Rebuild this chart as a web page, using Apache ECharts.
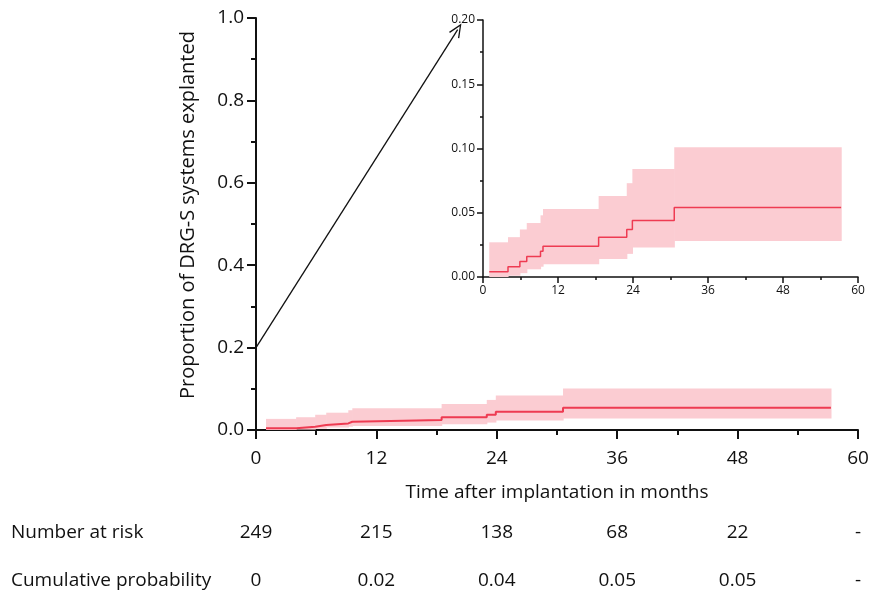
<!DOCTYPE html>
<html lang="en">
<head>
    <meta charset="utf-8">
    <title>DRG-S explant</title>
    <style>
        html, body { margin: 0; padding: 0; background: #fff; }
    </style>
</head>
<body>
<div id="main" style="width: 875px;height: 591px"></div>

<script src="https://cdn.jsdelivr.net/npm/echarts@6/dist/echarts.min.js"></script>
<script type="text/javascript">
    // step times (months) and cumulative proportion with 95% band
    var times = [1.0, 4.0, 5.9, 7.0, 9.2, 9.6, 18.5, 23.0, 23.9, 30.6, 57.3];
    var est   = [0.004, 0.008, 0.012, 0.016, 0.020, 0.024, 0.031, 0.037, 0.044, 0.054, 0.054];
    var upper = [0.027, 0.031, 0.037, 0.042, 0.048, 0.053, 0.063, 0.073, 0.084, 0.101, 0.101];
    var lower = [0.000, 0.001, 0.003, 0.006, 0.008, 0.010, 0.014, 0.018, 0.023, 0.028, 0.028];

    // risk table
    var riskTimes = [0, 12, 24, 36, 48, 60];
    var atRisk = ['249', '215', '138', '68', '22', '-'];
    var cumProb = ['0', '0.02', '0.04', '0.05', '0.05', '-'];
    var riskRows = ['Cumulative probability', 'Number at risk'];

    var lineColor = '#ee3b52';
    var bandColor = '#fbccd2';
    var FONT = 'Open Sans';
    var INK = '#111';

    function pairs(ys) {
        return times.map(function (t, i) { return [t, ys[i]]; });
    }
    // one rectangle per step: [from, to, low, high]
    var bandData = [];
    for (var i = 0; i < times.length - 1; i++) {
        bandData.push([times[i], times[i + 1], lower[i], upper[i]]);
    }

    function bandItem(params, api) {
        var a = api.coord([api.value(0), api.value(3)]);
        var b = api.coord([api.value(1), api.value(2)]);
        return {
            type: 'rect',
            shape: {x: a[0], y: a[1], width: b[0] - a[0] + 0.6, height: b[1] - a[1]},
            style: {fill: bandColor}
        };
    }

    function kmSeries(gi) {
        return [
            {
                type: 'custom', xAxisIndex: gi, yAxisIndex: gi, renderItem: bandItem,
                data: bandData, silent: true, z: 1,
                encode: {x: [0, 1], y: [2, 3]}
            },
            {
                type: 'line', xAxisIndex: gi, yAxisIndex: gi, step: 'end',
                data: pairs(est), symbol: 'none',
                lineStyle: {color: lineColor, width: gi === 0 ? 2 : 1.5}, z: 3
            }
        ];
    }

    var riskData = [];
    riskTimes.forEach(function (t, k) {
        riskData.push([t, riskRows[1], atRisk[k]]);
        riskData.push([t, riskRows[0], cumProb[k]]);
    });

    var myChart = echarts.init(document.getElementById('main'));

    function axisBits(w, major, minor) {
        return {
            axisLine: {lineStyle: {color: INK, width: w}},
            axisTick: {length: major, lineStyle: {color: INK, width: w}},
            minorTick: {show: true, splitNumber: 2, length: minor, lineStyle: {color: INK, width: w}},
            splitLine: {show: false}
        };
    }

    var series = kmSeries(0).concat(kmSeries(1));
    // arrow from 0.2 on the main axis up to the inset
    series[1].markLine = {
        silent: true,
        symbol: ['none', 'path://M0,0 L-6,13 L-4.8,13.5 L0,3 L4.8,13.5 L6,13 Z'],
        symbolSize: [12, 14],
        label: {show: false},
        lineStyle: {color: INK, width: 1.3, type: 'solid'},
        data: [[{coord: [0, 0.2]}, {coord: [20.1, 0.972]}]]
    };
    series.push({
        type: 'scatter', xAxisIndex: 2, yAxisIndex: 2, symbolSize: 0, silent: true,
        data: riskData,
        itemStyle: {opacity: 1},
        label: {
            show: true, position: 'inside', fontSize: 19, color: INK, fontFamily: FONT,
            textBorderWidth: 0, opacity: 1,
            formatter: function (p) { return p.value[2]; }
        }
    });

    var option = {
        animation: false,
        textStyle: {fontFamily: FONT},
        grid: [
            {left: 256, right: 17, top: 18, bottom: 161},
            {left: 483, right: 17, top: 20, bottom: 314},
            {left: 256, right: 17, top: 533, height: 48}
        ],
        xAxis: [
            echarts.util.merge({
                type: 'value', gridIndex: 0, min: 0, max: 60, interval: 12,
                name: 'Time after implantation in months', nameLocation: 'middle', nameGap: 53,
                nameTextStyle: {fontSize: 19, color: INK, fontFamily: FONT},
                axisLabel: {fontSize: 19, color: INK, margin: 19, fontFamily: FONT}
            }, axisBits(2, 9, 5)),
            echarts.util.merge({
                type: 'value', gridIndex: 1, min: 0, max: 60, interval: 12,
                axisLabel: {fontSize: 12, color: INK, margin: 8, fontFamily: FONT}
            }, axisBits(1.5, 6, 3)),
            {
                type: 'value', gridIndex: 2, min: 0, max: 60, show: false
            }
        ],
        yAxis: [
            echarts.util.merge({
                type: 'value', gridIndex: 0, min: 0, max: 1, interval: 0.2,
                name: 'Proportion of DRG-S systems explanted', nameLocation: 'middle', nameGap: 58,
                nameTextStyle: {fontSize: 20, color: INK, fontFamily: FONT, padding: [0, 0, 0, 18]},
                axisLabel: {fontSize: 19, color: INK, margin: 12, fontFamily: FONT,
                    formatter: function (v) { return v.toFixed(1); }}
            }, axisBits(2, 9, 5)),
            echarts.util.merge({
                type: 'value', gridIndex: 1, min: 0, max: 0.2, interval: 0.05,
                axisLabel: {fontSize: 12, color: INK, margin: 8, fontFamily: FONT,
                    formatter: function (v) { return v.toFixed(2); }}
            }, axisBits(1.5, 6, 3)),
            {
                type: 'category', gridIndex: 2, data: riskRows, boundaryGap: false,
                axisLine: {show: false}, axisTick: {show: false}, splitLine: {show: false},
                axisLabel: {fontSize: 19, color: INK, fontFamily: FONT, align: 'left', margin: 245}
            }
        ],
        series: series
    };
    myChart.setOption(option);
</script>
</body>
</html>
